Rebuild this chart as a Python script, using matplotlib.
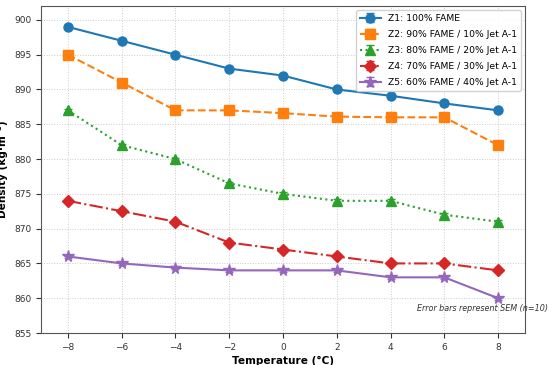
import matplotlib
matplotlib.use("Agg")
import matplotlib.pyplot as plt
import numpy as np

temps = [-8, -6, -4, -2, 0, 2, 4, 6, 8]
z1 = [899, 897, 895, 893, 892, 890, 889.1, 888, 887]
z2 = [895, 891, 887, 887, 886.6, 886.1, 886, 886, 882]
z3 = [887, 882, 880, 876.5, 875, 874, 874, 872, 871]
z4 = [874, 872.5, 871, 868, 867, 866, 865, 865, 864]
z5 = [866, 865, 864.4, 864, 864, 864, 863, 863, 860]
sem = [0.2] * 9
labels = ["Z1: 100% FAME", "Z2: 90% FAME / 10% Jet A-1", "Z3: 80% FAME / 20% Jet A-1",
          "Z4: 70% FAME / 30% Jet A-1", "Z5: 60% FAME / 40% Jet A-1"]

fig = plt.figure(figsize=(5.5, 3.65), dpi=100)
ax = fig.add_axes([41/550, 32/365, 484/550, 327/365])

styles = [
    ("#1f77b4", "o", "-", 6.5),
    ("#ff7f0e", "s", "--", 6.5),
    ("#2ca02c", "^", ":", 6.5),
    ("#d62728", "D", "-.", 6.5),
    ("#9467bd", "*", "-", 8.5),
]
for ys, lab, (c, m, ls, ms) in zip([z1, z2, z3, z4, z5], labels, styles):
    ax.errorbar(temps, ys, yerr=sem, color=c, marker=m, linestyle=ls, markersize=ms,
                linewidth=1.5, capsize=3, label=lab)

ax.set_xlim(-9, 9)
ax.set_ylim(855, 902)
ax.set_xticks([-8, -6, -4, -2, 0, 2, 4, 6, 8])
ax.set_yticks(np.arange(855, 901, 5))
ax.tick_params(labelsize=6.5, colors="#333333")
ax.grid(True, linestyle=":", color="#cccccc", linewidth=0.7)
for s in ax.spines.values():
    s.set_color("#555555")
ax.set_xlabel("Temperature (°C)", fontsize=7.6, fontweight="bold", labelpad=3)
ax.set_ylabel("Density (kg·m⁻³)", fontsize=7.6, fontweight="bold", labelpad=4)
ax.legend(loc="upper right", fontsize=6.7, framealpha=0.9, handlelength=2.3,
          handletextpad=0.75, borderpad=0.4, borderaxespad=0.45, labelspacing=0.75)
ax.text(5.0, 858.2, "Error bars represent SEM (n=10)", fontsize=5.8, style="italic",
        color="#333333")

fig.savefig("out.png", dpi=100)
